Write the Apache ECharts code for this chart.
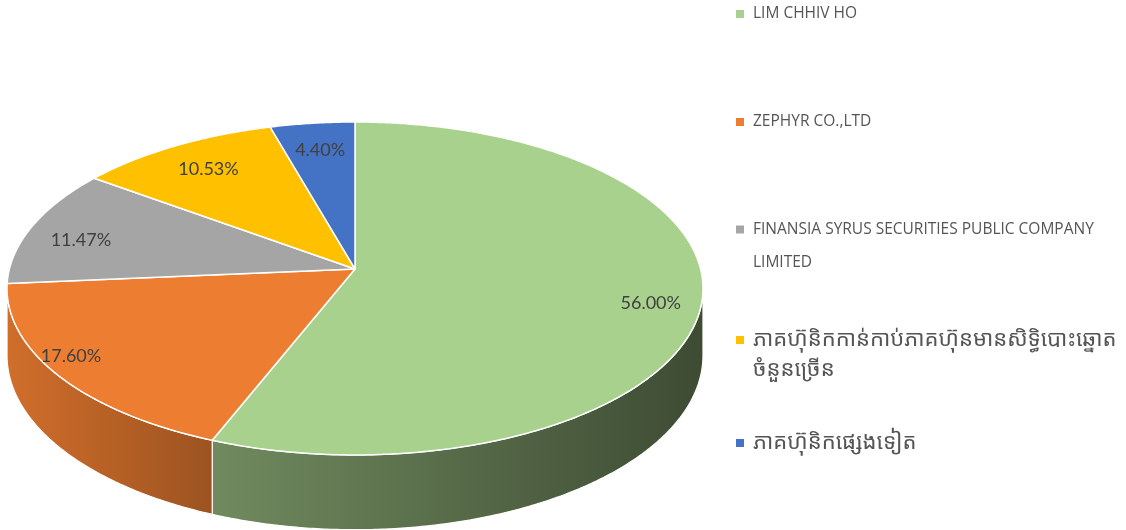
<!DOCTYPE html>
<html><head><meta charset="utf-8">
<script src="https://cdn.jsdelivr.net/npm/echarts@6/dist/echarts.min.js"></script>
<style>html,body{margin:0;padding:0;background:#fff}#c{width:1126px;height:530px}</style>
</head><body><div id="c"></div>
<script>
// ---- data ----
const categories = [
  'LIM CHHIV HO',
  'ZEPHYR CO.,LTD',
  'FINANSIA SYRUS SECURITIES PUBLIC COMPANY LIMITED',
  'ភាគហ៊ុនិកកាន់កាប់ភាគហ៊ុនមានសិទ្ធិបោះឆ្នោតចំនួនច្រើន',
  'ភាគហ៊ុនិកផ្សេងទៀត'
];
const legendLines = [
  ['LIM CHHIV HO'],
  ['ZEPHYR CO.,LTD'],
  ['FINANSIA SYRUS SECURITIES PUBLIC COMPANY', 'LIMITED'],
  ['ភាគហ៊ុនិកកាន់កាប់ភាគហ៊ុនមានសិទ្ធិបោះឆ្នោត', 'ចំនួនច្រើន'],
  ['ភាគហ៊ុនិកផ្សេងទៀត']
];
const values = [56.00, 17.60, 11.47, 10.53, 4.40];
const colors = ['#A9D18E', '#ED7D31', '#A5A5A5', '#FFC000', '#4472C4'];

// ---- layout / 3D projection ----
const CX = 355, CY = 269, SX = 345.6, SY = 164.2, K = 0.117, DEPTH = 66;
const labelRadius = [0.86, 0.92, 0.83, 0.8, 0.8];
const labelShift = [3, 4, -3, 0, 0];
const total = values.reduce((a, b) => a + b, 0);
const cum = values.map((v, i) => values.slice(0, i).reduce((a, b) => a + b, 0));

function proj(deg, f) {
  const r = deg * Math.PI / 180;
  const X = f * Math.sin(r), Y = f * Math.cos(r);
  const w = 1 + K * Y;
  return [CX + SX * X / w, CY - SY * Y / w, w];
}
function shade(hex, f) {
  const n = parseInt(hex.slice(1), 16);
  const r = Math.round(((n >> 16) & 255) * f), g = Math.round(((n >> 8) & 255) * f), b = Math.round((n & 255) * f);
  return 'rgb(' + r + ',' + g + ',' + b + ')';
}
function arc(a, b) {
  const n = Math.max(2, Math.ceil((b - a) / 0.5));
  const pts = [];
  for (let j = 0; j <= n; j++) pts.push(proj(a + (b - a) * j / n, 1));
  return pts;
}
const VIS_A = Math.acos(-K) * 180 / Math.PI, VIS_B = 360 - VIS_A;

function makeRender(i) {
  return function (params, api) {
    const s = cum[i] / total * 360;
    const e = (cum[i] + api.value(0)) / total * 360;
    const children = [];
    const a = Math.max(s, VIS_A), b = Math.min(e, VIS_B);
    if (a < b) {
      const top = arc(a, b);
      const pts = top.map(p => [p[0], p[1]]);
      for (let j = top.length - 1; j >= 0; j--) pts.push([top[j][0], top[j][1] + DEPTH / top[j][2]]);
      children.push({
        type: 'polygon', shape: { points: pts },
        style: {
          fill: new echarts.graphic.LinearGradient(CX - SX * 1.01, 0, CX + SX * 1.01, 0, [
            { offset: 0, color: shade(colors[i], 0.88) },
            { offset: 0.3, color: shade(colors[i], 0.66) },
            { offset: 1, color: shade(colors[i], 0.36) }
          ], true),
          stroke: '#ffffff', lineWidth: 1.2
        }
      });
    }
    const topPts = [[CX, CY]].concat(arc(s, e).map(p => [p[0], p[1]]));
    children.push({
      type: 'polygon', shape: { points: topPts }, z2: 5,
      style: { fill: colors[i], stroke: '#ffffff', lineWidth: 1.5, lineJoin: 'round' }
    });
    const m = proj((s + e) / 2 + labelShift[i], labelRadius[i]);
    children.push({
      type: 'text', x: m[0], y: m[1], z2: 10,
      style: {
        text: api.value(0).toFixed(2) + '%', fill: '#404040',
        fontSize: 18, fontFamily: 'Lato, "Open Sans", sans-serif',
        align: 'center', verticalAlign: 'middle'
      }
    });
    return { type: 'group', children: children };
  };
}

// legend item: marker centred on the first line (blank line above keeps it centred)
const legendTops = [4, 112, 180, 295, 425];
const legendStyles = [
  { fontSize: 15.5, lineHeight: 20 },
  { fontSize: 15.5, lineHeight: 20 },
  { fontSize: 15.5, lineHeight: 33 },
  { fontSize: 22, lineHeight: 30 },
  { fontSize: 22, lineHeight: 36 }
];

const chart = echarts.init(document.getElementById('c'), null, { renderer: 'canvas' });
chart.setOption({
  animation: false,
  backgroundColor: '#ffffff',
  color: colors,
  legend: categories.map((name, i) => ({
    data: [name], orient: 'vertical', left: 736, top: legendTops[i], padding: 0,
    icon: 'rect', itemWidth: 8, itemHeight: 8, selectedMode: false,
    formatter: () => (legendLines[i].length > 1 ? ' \n' : '') + legendLines[i].join('\n'),
    textStyle: Object.assign({
      color: '#555555',
      padding: [0, 0, 0, 4],
      fontFamily: '"Open Sans", "Noto Sans Khmer", "Khmer OS", sans-serif'
    }, legendStyles[i])
  })),
  series: categories.map((name, i) => ({
    type: 'custom', name: name, coordinateSystem: 'none',
    itemStyle: { color: colors[i] },
    data: [[values[i]]],
    renderItem: makeRender(i)
  }))
});
</script></body></html>
